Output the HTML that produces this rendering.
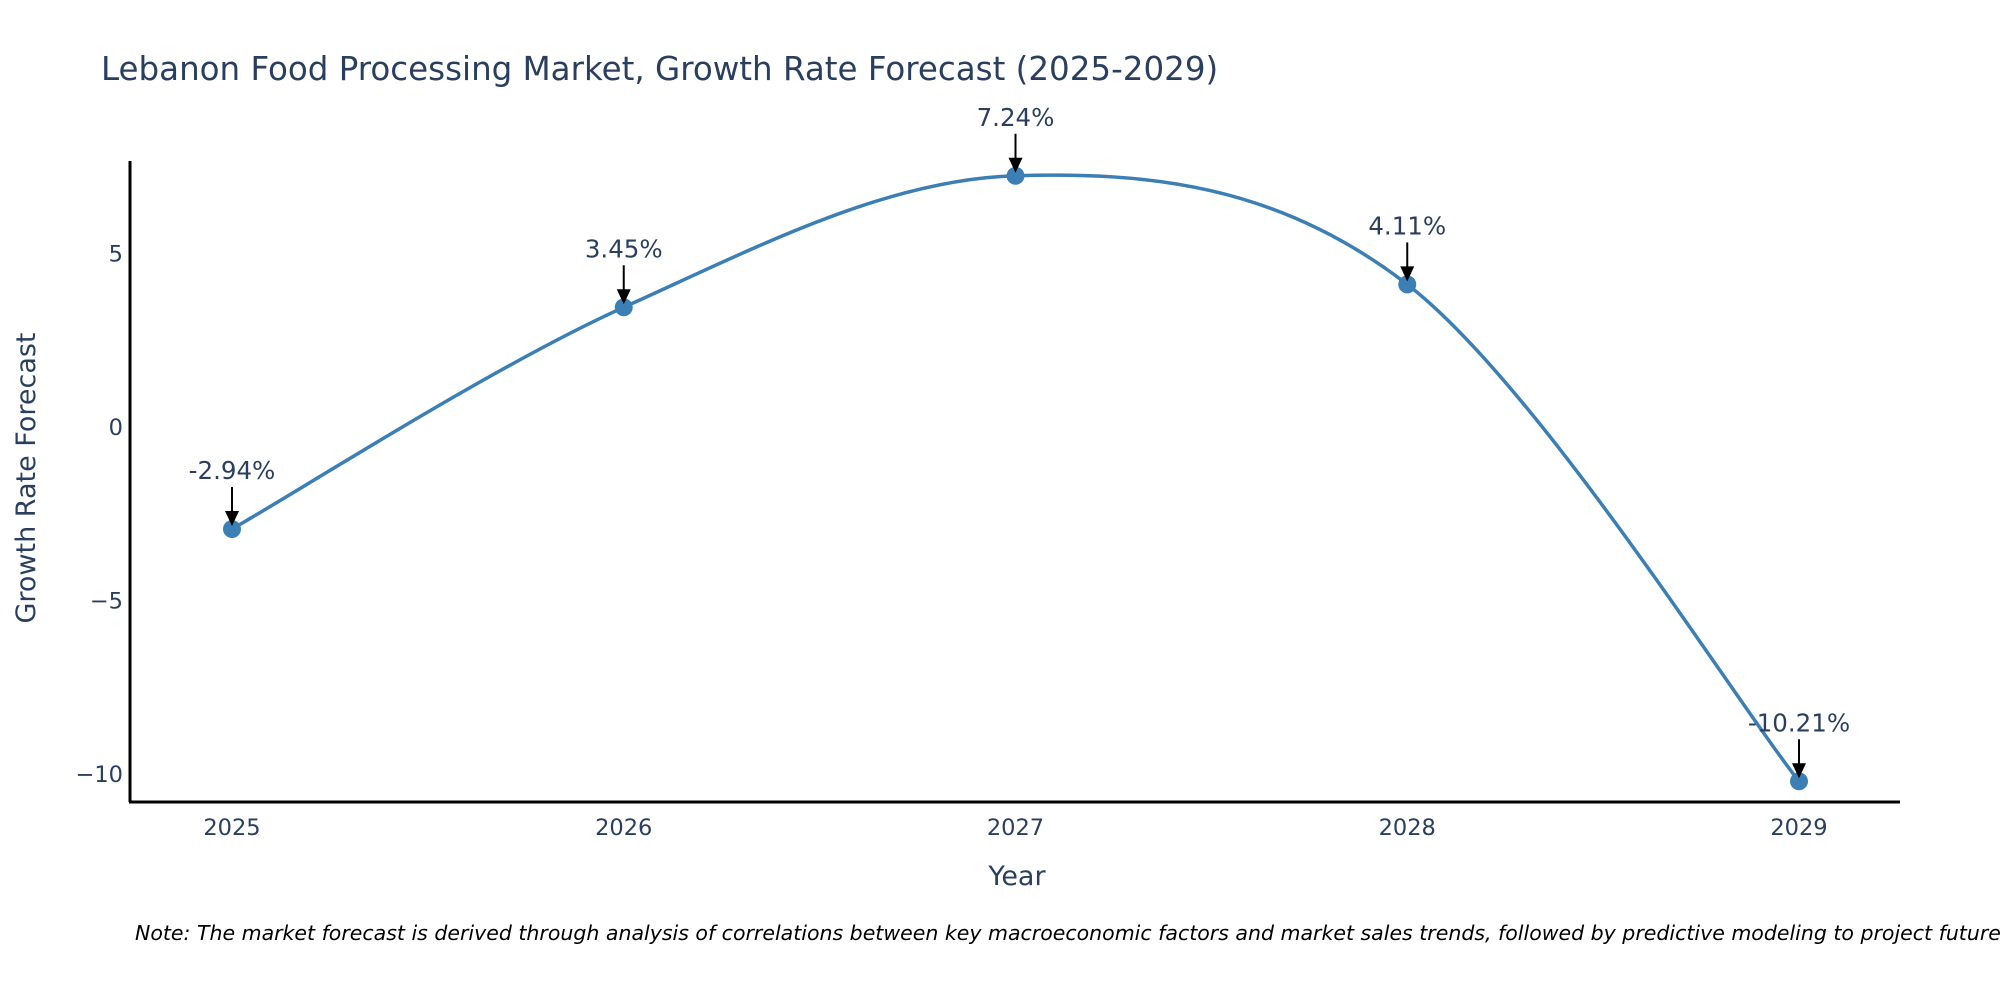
<!DOCTYPE html>
<html><head><meta charset="utf-8"><style>
body{margin:0;background:#fff;}
svg text{font-family:"DejaVu Sans","Liberation Sans",sans-serif;}
</style></head><body>
<svg id="chart" width="2000" height="1000" viewBox="0 0 2000 1000" xmlns="http://www.w3.org/2000/svg">
<rect width="2000" height="1000" fill="#fff"/>
<text x="101" y="80" font-size="32.5" fill="#2a3f5f">Lebanon Food Processing Market, Growth Rate Forecast (2025-2029)</text>
<g id="yticks"></g>
<g id="xticks"></g>
<line x1="130" y1="161" x2="130" y2="802" stroke="#000" stroke-width="3"/>
<line x1="129" y1="802" x2="1900" y2="802" stroke="#000" stroke-width="3"/>
<path id="line" fill="none" stroke="#3b7fb5" stroke-width="3.5"/>
<g id="points"></g>
<g id="annots"></g>
<text x="0" y="0" transform="translate(35,478) rotate(-90)" text-anchor="middle" font-size="27" fill="#2a3f5f">Growth Rate Forecast</text>
<text x="1017" y="885" text-anchor="middle" font-size="27" fill="#2a3f5f">Year</text>
<text x="135" y="940" font-size="20.5" font-style="italic" fill="#000">Note: The market forecast is derived through analysis of correlations between key macroeconomic factors and market sales trends, followed by predictive modeling to project future sales.</text>
</svg>
<script>
const years = [2025, 2026, 2027, 2028, 2029];
const values = [-2.94, 3.45, 7.24, 4.11, -10.21];
const labels = ["-2.94%", "3.45%", "7.24%", "4.11%", "-10.21%"];
const yTicks = [-10, -5, 0, 5];
const NS = "http://www.w3.org/2000/svg";
function xs(y){ return 232 + (y - 2025) * (1799 - 232) / 4; }
function ys(v){ return 427 - v * 34.7; }
function mk(tag, attrs, parent){ const e = document.createElementNS(NS, tag); for (const k in attrs) e.setAttribute(k, attrs[k]); parent.appendChild(e); return e; }
const yt = document.getElementById('yticks');
yTicks.forEach(t => {
  const e = mk('text', {x:123, y:ys(t)+8, 'text-anchor':'end', 'font-size':22.5, fill:'#2a3f5f'}, yt);
  
  
  e.textContent = t < 0 ? '\u2212' + Math.abs(t) : String(t);
});
const xt = document.getElementById('xticks');
years.forEach(y => {
  const e = mk('text', {x:xs(y), y:835, 'text-anchor':'middle', 'font-size':22.5, fill:'#2a3f5f'}, xt);
  
  
  e.textContent = String(y);
});
const P = years.map((y, i) => [xs(y), ys(values[i])]);
let d = 'M' + P[0][0] + ',' + P[0][1];
for (let i = 0; i < P.length - 1; i++) {
  const p0 = P[Math.max(0, i-1)], p1 = P[i], p2 = P[i+1], p3 = P[Math.min(P.length-1, i+2)];
  const c1 = [p1[0] + (p2[0]-p0[0])/6, p1[1] + (p2[1]-p0[1])/6];
  const c2 = [p2[0] - (p3[0]-p1[0])/6, p2[1] - (p3[1]-p1[1])/6];
  d += ' C' + c1 + ' ' + c2 + ' ' + p2;
}
document.getElementById('line').setAttribute('d', d);
const pts = document.getElementById('points');
const an = document.getElementById('annots');
P.forEach((p, i) => {
  const c = mk('circle', {cx:p[0], cy:p[1], r:9, fill:'#3b7fb5'}, pts);
  
  
  const l = mk('line', {x1:p[0], y1:p[1]-42, x2:p[0], y2:p[1]-14, stroke:'#000', 'stroke-width':2}, an);
  
  
  const h = mk('path', {d:'M'+(p[0]-7)+','+(p[1]-18)+' L'+(p[0]+7)+','+(p[1]-18)+' L'+p[0]+','+(p[1]-3)+'Z', fill:'#000'}, an);
  
  
  const t = mk('text', {x:p[0], y:p[1]-50, 'text-anchor':'middle', 'font-size':24.5, fill:'#2a3f5f'}, an);
  
  
  t.textContent = labels[i];
});
</script>
</body></html>
